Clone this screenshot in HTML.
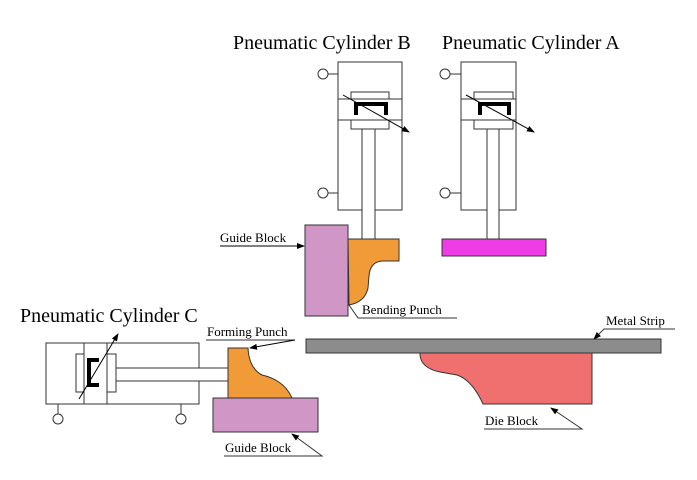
<!DOCTYPE html>
<html><head><style>body{margin:0;background:#fff}svg{display:block}svg text{font-family:"Liberation Serif","Times New Roman",serif !important;fill:#000}</style></head><body>
<svg width="697" height="480" viewBox="0 0 697 480" xmlns="http://www.w3.org/2000/svg" font-family="Liberation Serif, serif">
<defs><marker id="a" markerWidth="8" markerHeight="8" refX="7" refY="4" orient="auto" markerUnits="userSpaceOnUse"><path d="M0,1 L8,4 L0,7 Z" fill="#000"/></marker></defs>
<g stroke="#333" stroke-width="1" fill="#fff" font-family="Liberation Serif, serif">
<text x="233" y="49" font-size="20" stroke="none">Pneumatic Cylinder B</text>
<text x="442" y="49" font-size="20" stroke="none">Pneumatic Cylinder A</text>
<text x="20" y="322" font-size="20" stroke="none">Pneumatic Cylinder C</text>
<!-- Cyl B -->
<rect x="338" y="62" width="64" height="148"/>
<line x1="338" y1="99" x2="402" y2="99"/><line x1="338" y1="120" x2="402" y2="120"/>
<rect x="351" y="92" width="38" height="7"/><rect x="351" y="120" width="38" height="9"/>
<path d="M356 115 V104 H386 V115" fill="none" stroke="#000" stroke-width="4"/>
<rect x="362" y="129" width="13" height="110"/>
<line x1="328" y1="74" x2="338" y2="74"/><circle cx="323" cy="74" r="5"/>
<line x1="328" y1="193" x2="338" y2="193"/><circle cx="323" cy="193" r="5"/>
<line x1="343" y1="95" x2="409" y2="132" stroke="#000" marker-end="url(#a)"/>
<!-- Cyl A -->
<rect x="461" y="62" width="55" height="148"/>
<line x1="461" y1="99" x2="516" y2="99"/><line x1="461" y1="120" x2="516" y2="120"/>
<rect x="474" y="92" width="39" height="7"/><rect x="474" y="120" width="39" height="9"/>
<path d="M480 115 V104 H509 V115" fill="none" stroke="#000" stroke-width="4"/>
<rect x="487" y="129" width="12" height="110"/>
<line x1="450" y1="74" x2="461" y2="74"/><circle cx="445" cy="74" r="5"/>
<line x1="450" y1="193" x2="461" y2="193"/><circle cx="445" cy="193" r="5"/>
<line x1="466" y1="95" x2="534" y2="132" stroke="#000" marker-end="url(#a)"/>
<rect x="442" y="239" width="104" height="17" fill="#f03ce6"/>
<!-- B punch & guide -->
<path d="M348 239 H399 V261 H382 Q370 262 369 276 L368 288 Q365 302 349 305 Z" fill="#f09a38"/>
<rect x="305" y="225" width="43" height="91" fill="#cf96c6"/>
<text x="220" y="242" font-size="13" stroke="none">Guide Block</text>
<line x1="220" y1="246" x2="304" y2="246" stroke="#000" marker-end="url(#a)"/>
<text x="362" y="314" font-size="13" stroke="none">Bending Punch</text>
<polyline points="457,318 358,318 349,305" fill="none"/>
<!-- Cyl C -->
<rect x="46" y="343" width="153" height="61"/>
<line x1="84" y1="343" x2="84" y2="404"/><line x1="107" y1="343" x2="107" y2="404"/>
<rect x="76" y="354" width="8" height="38"/><rect x="107" y="354" width="9" height="38"/>
<path d="M99 360 H89 V385 H99" fill="none" stroke="#000" stroke-width="4"/>
<rect x="116" y="368" width="112" height="13"/>
<line x1="58" y1="404" x2="58" y2="414"/><circle cx="58" cy="419" r="5"/>
<line x1="181" y1="404" x2="181" y2="414"/><circle cx="181" cy="419" r="5"/>
<line x1="79" y1="399" x2="118" y2="334" stroke="#000" marker-end="url(#a)"/>
<path d="M228 348 H248 Q249 368 262 375 Q284 380 292 398 H228 Z" fill="#f09a38"/>
<rect x="213" y="398" width="105" height="34" fill="#cf96c6"/>
<text x="207" y="336" font-size="13" stroke="none">Forming Punch</text>
<line x1="206" y1="340" x2="295" y2="340"/>
<line x1="295" y1="340" x2="250" y2="348" stroke="#000" marker-end="url(#a)"/>
<text x="225" y="452" font-size="13" stroke="none">Guide Block</text>
<polyline points="224,456 322,456 292,434" fill="none" marker-end="url(#a)"/>
<!-- strip & die -->
<rect x="306" y="339" width="355" height="14" fill="#8c8c8c"/>
<path d="M420 353 H592 V404 H483 Q472 380 457 375 L440 372 Q421 368 420 355 Z" fill="#f07070"/>
<text x="606" y="325" font-size="13" stroke="none">Metal Strip</text>
<polyline points="675,329 604,329 594,339" fill="none" marker-end="url(#a)"/>
<text x="485" y="425" font-size="13" stroke="none">Die Block</text>
<polyline points="484,429 582,429 551,408" fill="none" marker-end="url(#a)"/>
</g>
</svg>
</body></html>
